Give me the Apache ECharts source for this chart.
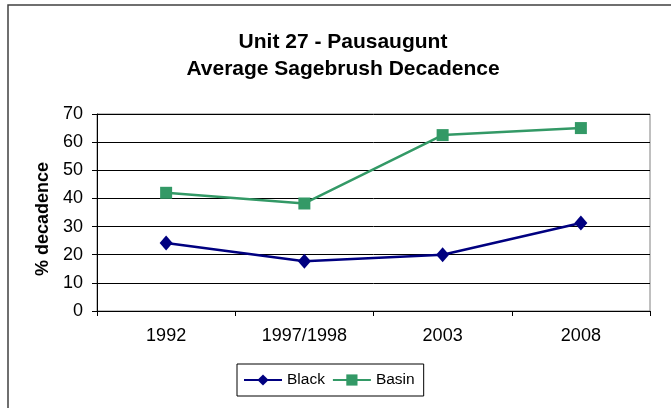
<!DOCTYPE html>
<html>
<head>
<meta charset="utf-8">
<script src="https://cdn.jsdelivr.net/npm/echarts@6/dist/echarts.min.js"></script>
<style>
  html, body { margin: 0; padding: 0; background: #fff; }
  #chart { width: 671px; height: 408px; }
</style>
</head>
<body>
<div id="chart"></div>
<script>
// Survey years and mean sagebrush decadence (%) per site type
const years = ['1992', '1997/1998', '2003', '2008'];
const blackValues = [24.2, 17.7, 20.0, 31.3];
const basinValues = [42.0, 38.2, 62.5, 65.0];
const yTicks = { min: 0, max: 70, step: 10 };

const chart = echarts.init(document.getElementById('chart'));
const font = 'Liberation Sans, Arial, sans-serif';

chart.setOption({
  animation: false,
  backgroundColor: '#fff',
  graphic: [{
    type: 'rect',
    shape: { x: 8, y: 5, width: 720, height: 460 },
    style: { fill: 'none', stroke: '#404040', lineWidth: 1.5 },
    silent: true
  }],
  title: {
    text: 'Unit 27 - Pausaugunt\nAverage Sagebrush Decadence',
    left: 343,
    top: 29,
    padding: 0,
    textAlign: 'center',
    textStyle: {
      fontFamily: font,
      fontSize: 21,
      fontWeight: 'bold',
      color: '#000',
      lineHeight: 27
    }
  },
  legend: {
    left: 237,
    top: 364,
    itemWidth: 38,
    itemHeight: 14,
    itemGap: 7,
    padding: [8, 9, 8, 6],
    borderColor: '#000',
    borderWidth: 1,
    textStyle: { fontFamily: font, fontSize: 15.5, color: '#000' },
    data: ['Black', 'Basin']
  },
  grid: {
    left: 97, right: 21, top: 114, bottom: 97,
    show: true,
    borderColor: '#808080',
    borderWidth: 1,
    containLabel: false
  },
  xAxis: {
    type: 'category',
    data: years,
    boundaryGap: true,
    axisLine: { lineStyle: { color: '#000', width: 1 } },
    axisTick: { show: true, length: 5, lineStyle: { color: '#000' } },
    axisLabel: { fontFamily: font, fontSize: 18, color: '#000', margin: 16 }
  },
  yAxis: {
    type: 'value',
    min: yTicks.min,
    max: yTicks.max,
    interval: yTicks.step,
    name: '% decadence',
    nameLocation: 'middle',
    nameGap: 43,
    nameRotate: 90,
    nameTextStyle: {
      fontFamily: font, fontSize: 18, fontWeight: 'bold', color: '#000',
      padding: [0, 13, 0, 0]
    },
    axisLine: { show: true, lineStyle: { color: '#000', width: 1 } },
    axisTick: { show: true, length: 5, lineStyle: { color: '#000' } },
    splitLine: { show: true, lineStyle: { color: '#000', width: 1 } },
    axisLabel: { fontFamily: font, fontSize: 18, color: '#000', margin: 14 }
  },
  series: [
    {
      name: 'Black',
      type: 'line',
      data: blackValues,
      symbol: 'diamond',
      symbolSize: [13, 15],
      lineStyle: { color: '#000080', width: 2.5 },
      itemStyle: { color: '#000080' }
    },
    {
      name: 'Basin',
      type: 'line',
      data: basinValues,
      symbol: 'rect',
      symbolSize: 12,
      lineStyle: { color: '#339966', width: 2.5 },
      itemStyle: { color: '#339966' }
    }
  ]
});
</script>
</body>
</html>
